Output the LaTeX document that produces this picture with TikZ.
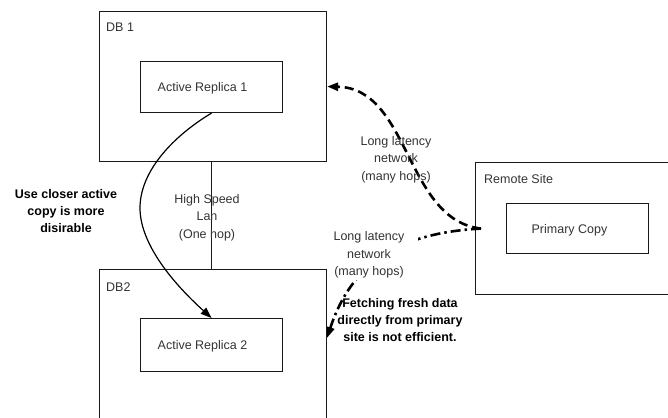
\documentclass[tikz,border=0pt]{standalone}
\usepackage{fontspec}
\setmainfont{Liberation Sans}
\usetikzlibrary{arrows.meta}
\begin{document}
\begin{tikzpicture}[x=1pt,y=-1pt,
  box/.style={draw=black!90,line width=1.1pt,anchor=north west,inner sep=0pt},
  txt/.style={inner sep=0pt,text=black!80,font=\fontsize{12.5}{17.5}\selectfont,align=center},
  btxt/.style={inner sep=0pt,font=\fontsize{12.5}{17}\selectfont\bfseries,align=center},
  tip/.style={-{Triangle[length=11pt,width=8pt]}},
  lan/.style={draw=black!90,line width=1.1pt},
  solidarrow/.style={tip,line width=1.2pt},
  dasharrow/.style={tip,line width=2.6pt,dash pattern=on 9pt off 5pt},
  dotdasharrow/.style={tip,line width=2.6pt,dash pattern=on 10pt off 4pt on 2.5pt off 4pt}]
\useasboundingbox (0,0) rectangle (668,417);
\clip (0,0) rectangle (668,417);
% remote site
\node[box,minimum width=230pt,minimum height=132pt] (rs) at (475,162) {};
\node[box,minimum width=142pt,minimum height=50pt] (pc) at (506,203) {};
% dash-dot to DB2 (partly hidden behind its label)
\coordinate (rsw) at ([xshift=6pt]rs.west);
\coordinate (fe) at (327,338);
\draw[dotdasharrow] (rsw) .. controls (400,233) and (352,262) .. (fe);
\node[txt,fill=white,inner xsep=14pt,inner ysep=2pt] (ll2) at (369,254.8) {Long latency\\network\\(many hops)};
% boxes
\node[box,minimum width=227pt,minimum height=150pt] (db1) at (99,11) {};
\node[box,minimum width=142pt,minimum height=51pt] (ar1) at (140,61) {};
\node[box,minimum width=227pt,minimum height=175pt] (db2) at (99,269) {};
\node[box,minimum width=142pt,minimum height=53pt] (ar2) at (140,318) {};
% box labels
\node[txt,anchor=base west] (l1) at (106,32) {DB 1};
\node[txt,anchor=base west] (l2) at (106,291) {DB2};
\node[txt,anchor=base west] (l3) at (484,183) {Remote Site};
\node[txt,anchor=base] (t1) at (202.5,92) {Active Replica 1};
\node[txt,anchor=base] (t2) at (202.5,349) {Active Replica 2};
\node[txt,anchor=base] (t3) at (569.5,233) {Primary Copy};
% LAN link
\draw[lan] (ar1.south |- db1.south) -- (ar1.south |- db2.north);
% solid curve
\coordinate (mid) at (140,208);
\draw[solidarrow] (ar1.south) .. controls (175,135) and (140,170) .. (mid)
  .. controls (140,245) and (175,285) .. (ar2.north);
% dashed long latency to DB1
\draw[dasharrow] (rsw) .. controls (405,220) and (410,88) .. (db1.east);
% texts
\node[txt] (hs) at (207,217.3) {High Speed\\Lan\\(One hop)};
\node[txt] (ll1) at (396,159.6) {Long latency\\network\\(many hops)};
\node[btxt] (uc) at (66,211.5) {Use closer active\\copy is more\\disirable};
\node[btxt] (ff) at (400,320.5) {Fetching fresh data\\directly from primary\\site is not efficient.};
\end{tikzpicture}
\end{document}
